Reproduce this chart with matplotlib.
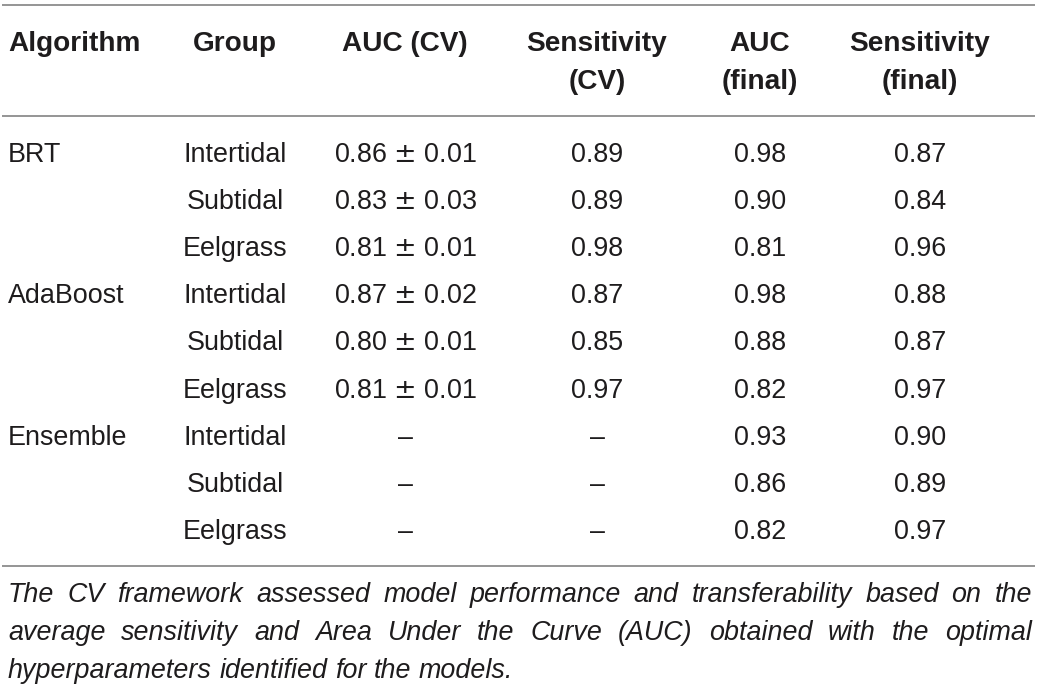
import matplotlib
matplotlib.use("Agg")
import matplotlib.pyplot as plt

plt.rcParams['font.family'] = ['Liberation Sans', 'DejaVu Sans']
plt.rcParams['mathtext.fontset'] = 'dejavusans'

# Tabelle: Kopfzeilen und Werte
headers = [["Algorithm"], ["Group"], ["AUC (CV)"], ["Sensitivity", "(CV)"],
           ["AUC", "(final)"], ["Sensitivity", "(final)"]]
algorithms = ["BRT", "", "", "AdaBoost", "", "", "Ensemble", "", ""]
groups = ["Intertidal", "Subtidal", "Eelgrass"] * 3
auc_cv = ["0.86 \u00b1 0.01", "0.83 \u00b1 0.03", "0.81 \u00b1 0.01",
          "0.87 \u00b1 0.02", "0.80 \u00b1 0.01", "0.81 \u00b1 0.01",
          "\u2013", "\u2013", "\u2013"]
sens_cv = ["0.89", "0.89", "0.98", "0.87", "0.85", "0.97", "\u2013", "\u2013", "\u2013"]
auc_final = ["0.98", "0.90", "0.81", "0.98", "0.88", "0.82", "0.93", "0.86", "0.82"]
sens_final = ["0.87", "0.84", "0.96", "0.88", "0.87", "0.97", "0.90", "0.89", "0.97"]
caption = ("The CV framework assessed model performance and transferability based on the "
           "average sensitivity and Area Under the Curve (AUC) obtained with the optimal "
           "hyperparameters identified for the models.")
caption_lines = [11, 12, 6]  # Woerter je Zeile

W, H = 1040, 689
fig = plt.figure(figsize=(W / 100, H / 100), dpi=100)
ax = fig.add_axes([0, 0, 1, 1])
ax.set_xlim(0, W)
ax.set_ylim(H, 0)
ax.axis('off')

txt = '#1e1c1d'
fs = 19.4
col_x = [8, 235, 405, 597, 760, 920]
col_ha = ['left', 'center', 'center', 'center', 'center', 'center']

# Linien
for y in [5, 116, 566]:
    ax.hlines(y, 2, 1035, color='#8c8c8c', lw=1.3)

# Kopf
for x, ha, lines in zip(col_x, col_ha, headers):
    for k, s in enumerate(lines):
        ax.text(x, 51 + 38 * k, s, ha=ha, va='baseline', fontsize=20.2,
                fontweight='bold', color=txt)

# Zeilen
columns = [algorithms, groups, auc_cv, sens_cv, auc_final, sens_final]
for i in range(len(groups)):
    yb = 162 + 47.1 * i
    for x, ha, col in zip(col_x, col_ha, columns):
        s = col[i].replace('\u00b1', r'$\pm$')
        ax.text(x, yb, s, ha=ha, va='baseline', fontsize=fs, color=txt)

# Bildunterschrift, Blocksatz
fig.canvas.draw()
renderer = fig.canvas.get_renderer()
words = caption.split()
left, right = 8, 1032
pos = 0
for li, n in enumerate(caption_lines):
    line_words = words[pos:pos + n]
    pos += n
    yb = 602 + 38 * li
    items = [ax.text(0, yb, w, ha='left', va='baseline', fontsize=fs,
                     style='italic', color=txt) for w in line_words]
    widths = [t.get_window_extent(renderer).width for t in items]
    if li < len(caption_lines) - 1:
        gap = (right - left - sum(widths)) / (len(items) - 1)
    else:
        gap = fs * 100 / 72 * 0.278
    x = left
    for t, w in zip(items, widths):
        t.set_x(x)
        x += w + gap

fig.savefig('out.png', dpi=100)
